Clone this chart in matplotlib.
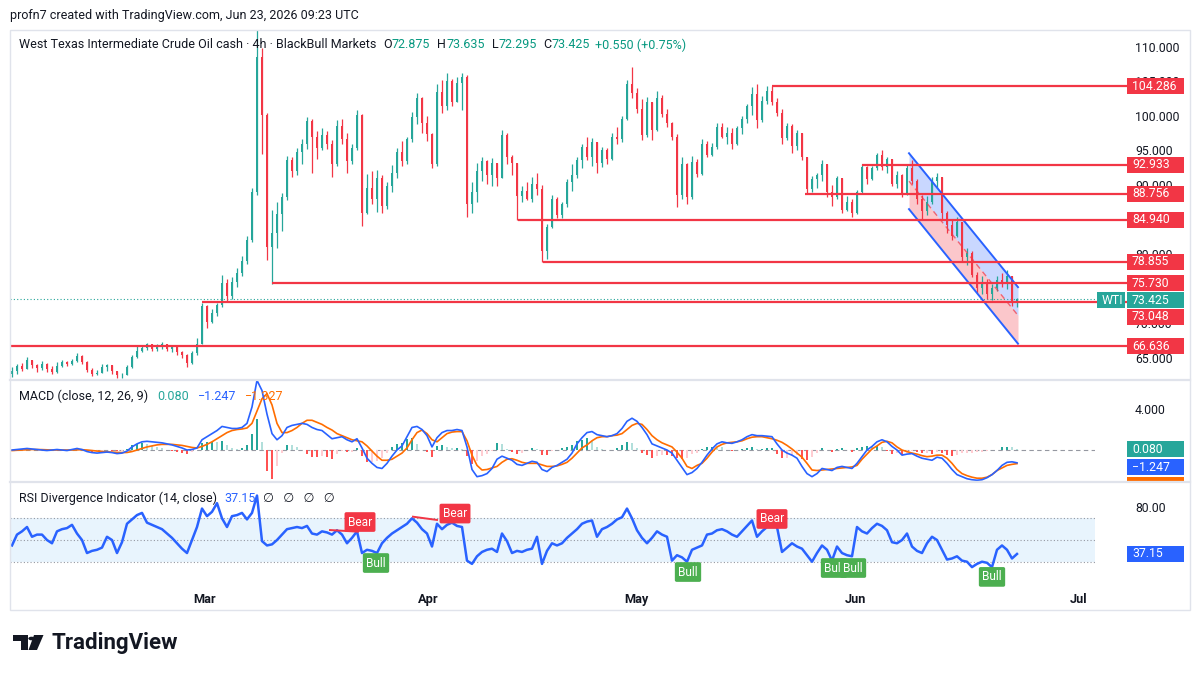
import numpy as np
import matplotlib
matplotlib.use("Agg")
import matplotlib.pyplot as plt
from matplotlib.patches import Rectangle, Polygon, Circle
from matplotlib.lines import Line2D
from matplotlib.ticker import FormatStrFormatter

plt.rcParams['font.family'] = ['Roboto', 'DejaVu Sans']

# ---- data (one 4h-ish candle per index) ----
first_open = 62.6
close = [63.0, 63.8, 63.4, 64.6, 63.9, 63.5, 64.1, 63.3, 62.9, 63.8,
         64.3, 64.1, 64.5, 65.2, 64.4, 63.2, 62.6, 62.8, 63.6, 63.9,
         63.0, 62.4, 62.5, 63.6, 65.1, 66.0, 66.4, 66.9, 66.3, 66.6,
         66.9, 66.2, 66.5, 65.8, 65.3, 64.2, 65.6, 66.9, 72.4, 70.2,
         71.4, 72.6, 75.8, 73.9, 76.0, 77.3, 79.0, 82.0, 89.0, 108.5,
         100.2, 81.0, 83.0, 85.8, 88.3, 93.6, 92.0, 94.8, 96.0, 99.3,
         97.0, 95.4, 97.2, 96.0, 93.0, 98.5, 96.7, 93.5, 95.4, 100.2,
         86.0, 89.5, 88.0, 91.0, 87.0, 89.8, 91.8, 94.8, 93.5, 96.6,
         99.8, 102.6, 99.0, 97.4, 93.0, 103.5, 101.5, 105.0, 102.0, 104.8,
         105.6, 87.2, 89.0, 92.0, 93.5, 91.4, 93.2, 91.0, 97.2, 94.0,
         93.2, 88.4, 89.2, 88.0, 90.2, 89.4, 80.5, 83.9, 88.0, 85.6,
         87.2, 90.4, 91.5, 93.6, 95.5, 94.0, 96.2, 93.2, 95.0, 93.8,
         97.0, 96.6, 99.6, 104.6, 103.4, 101.0, 97.2, 102.0, 98.0, 102.6,
         100.3, 99.0, 97.0, 88.5, 93.0, 88.2, 93.4, 91.6, 96.0, 94.3,
         95.5, 98.4, 97.0, 97.6, 96.0, 98.3, 99.6, 101.4, 103.2, 99.4,
         102.2, 103.6, 102.0, 100.4, 96.8, 98.6, 95.6, 97.5, 94.0, 89.4,
         90.8, 91.4, 93.0, 89.0, 88.2, 91.0, 86.4, 87.6, 86.0, 89.0,
         92.6, 90.8, 92.5, 94.3, 92.6, 93.8, 90.2, 91.4, 88.6, 92.5,
         90.6, 88.0, 86.2, 87.6, 90.6, 91.2, 86.0, 84.2, 82.6, 84.6,
         79.6, 80.2, 77.0, 75.0, 76.0, 74.2, 75.0, 76.3, 75.6, 76.8,
         72.875, 73.425]
high = [63.6, 64.0, 64.2, 65.1, 64.7, 64.1, 64.5, 64.2, 63.7, 64.3,
        64.6, 64.5, 64.8, 65.6, 65.3, 64.5, 63.5, 63.2, 64.0, 64.1,
        63.9, 63.1, 62.8, 63.9, 65.3, 66.6, 66.7, 67.1, 67.0, 66.9,
        67.3, 67.0, 66.8, 66.6, 65.9, 65.5, 66.0, 67.8, 72.9, 72.6,
        72.0, 72.9, 77.0, 76.4, 76.6, 78.0, 79.7, 82.6, 89.6, 112.4,
        109.8, 100.5, 86.4, 87.6, 88.9, 94.2, 94.0, 95.4, 96.6, 99.8,
        99.5, 97.8, 98.2, 97.8, 96.5, 99.4, 99.6, 97.5, 96.0, 100.9,
        100.3, 91.6, 92.0, 92.1, 91.4, 90.5, 92.9, 95.3, 96.4, 97.0,
        100.6, 103.3, 102.8, 100.0, 97.5, 104.7, 105.2, 106.2, 105.3, 105.6,
        106.2, 106.0, 90.4, 93.2, 94.1, 93.6, 93.9, 93.0, 98.0, 97.6,
        94.4, 92.0, 89.8, 90.4, 91.2, 91.7, 90.0, 84.4, 88.5, 88.3,
        87.6, 90.8, 93.0, 94.1, 96.0, 97.0, 96.8, 95.6, 95.5, 95.3,
        97.5, 98.4, 100.0, 105.2, 107.1, 104.0, 102.5, 102.8, 101.5, 103.6,
        103.0, 101.0, 99.2, 97.4, 94.1, 93.2, 94.2, 93.8, 96.6, 96.4,
        96.1, 99.0, 99.0, 98.4, 98.2, 98.6, 100.0, 101.8, 104.2, 104.6,
        102.9, 104.3, 104.3, 102.6, 101.0, 99.0, 98.8, 98.0, 96.5, 93.5,
        91.3, 91.7, 93.6, 92.8, 90.0, 91.3, 90.6, 88.4, 87.9, 89.3,
        93.0, 92.7, 92.8, 94.6, 95.0, 94.0, 93.6, 92.0, 91.6, 93.0,
        93.6, 90.9, 88.6, 88.4, 91.2, 91.7, 91.0, 86.2, 85.0, 85.3,
        84.5, 80.8, 80.4, 77.4, 76.8, 76.4, 75.6, 76.8, 77.2, 77.7,
        76.4, 73.635]
low = [62.2, 62.6, 63.1, 63.3, 63.5, 62.9, 63.2, 62.9, 62.6, 62.8,
       63.6, 63.7, 63.9, 64.3, 64.1, 62.9, 62.3, 62.4, 62.7, 63.1,
       62.6, 62.0, 62.1, 62.4, 63.5, 65.0, 65.8, 66.1, 66.0, 65.9,
       66.3, 65.9, 65.8, 65.4, 64.9, 63.6, 64.0, 65.4, 66.9, 69.3,
       70.0, 71.0, 72.3, 73.2, 73.5, 75.2, 76.8, 78.5, 81.8, 88.5,
       94.5, 79.2, 75.6, 80.8, 83.4, 87.8, 91.2, 91.5, 93.0, 95.2,
       91.7, 93.8, 95.0, 95.2, 91.2, 92.8, 96.0, 91.8, 93.0, 95.0,
       84.0, 85.8, 87.2, 86.1, 86.0, 86.5, 89.0, 91.0, 92.7, 93.0,
       96.2, 98.8, 97.6, 96.4, 92.4, 92.8, 100.5, 100.8, 101.4, 102.0,
       100.8, 85.4, 86.0, 87.5, 90.6, 90.2, 89.8, 89.9, 91.0, 93.0,
       91.5, 84.9, 87.6, 87.8, 87.6, 88.6, 78.9, 79.3, 83.8, 85.2,
       85.2, 86.8, 89.2, 91.0, 92.5, 93.6, 92.8, 91.8, 92.6, 93.0,
       93.6, 96.0, 96.2, 99.4, 102.6, 100.4, 96.5, 97.0, 96.5, 97.8,
       99.8, 98.4, 96.5, 86.8, 88.0, 87.3, 88.0, 91.2, 91.4, 94.0,
       94.2, 95.2, 96.8, 95.9, 95.2, 95.8, 97.4, 99.0, 100.2, 98.2,
       99.2, 101.8, 101.6, 100.0, 96.0, 96.5, 94.6, 95.0, 93.6, 88.8,
       89.0, 89.6, 90.6, 88.3, 86.9, 88.0, 85.9, 86.2, 85.4, 85.8,
       88.8, 90.2, 90.7, 92.2, 92.2, 91.8, 89.8, 89.6, 88.3, 88.5,
       90.2, 87.3, 85.0, 85.6, 87.2, 89.5, 85.0, 83.0, 82.0, 82.4,
       78.9, 78.4, 76.6, 74.3, 74.2, 73.5, 73.3, 74.6, 75.2, 74.9,
       72.4, 72.295]

macd = [0.0, 0.05, 0.1, 0.15, 0.1, 0.05, 0.0, -0.05, 0.0, 0.05,
        0.0, -0.05, 0.05, 0.15, 0.05, -0.15, -0.25, -0.3, -0.25, -0.2,
        -0.25, -0.35, -0.3, -0.1, 0.3, 0.6, 0.8, 0.85, 0.8, 0.75,
        0.7, 0.6, 0.5, 0.35, 0.2, 0.0, 0.05, 0.2, 1.0, 1.3,
        1.6, 1.9, 2.3, 2.2, 2.1, 2.1, 2.2, 2.6, 4.2, 6.8,
        5.8, 3.5, 1.6, 1.0, 1.4, 2.2, 2.4, 2.5, 2.6, 2.5,
        2.2, 2.0, 1.9, 1.5, 1.1, 1.2, 1.3, 1.0, 0.8, 1.1,
        0.2, -0.8, -1.3, -1.7, -1.8, -1.3, -0.6, 0.0, 0.4, 1.3,
        2.2, 2.3, 2.0, 1.4, 0.3, 1.2, 1.7, 1.9, 1.9, 2.0,
        1.9, 0.3, -1.9, -2.6, -2.5, -2.3, -1.8, -0.9, -0.6, -0.8,
        -1.0, -1.4, -1.5, -1.3, -1.1, -1.2, -1.9, -2.1, -1.7, -1.5,
        -1.2, -0.9, -0.3, 0.6, 1.2, 1.7, 1.8, 1.5, 1.4, 1.3,
        1.4, 1.6, 2.1, 2.8, 3.1, 2.8, 2.2, 1.5, 0.6, 0.4,
        0.2, 0.0, -0.3, -1.0, -1.7, -2.4, -2.2, -1.8, -1.2, -0.5,
        0.1, 0.6, 0.8, 0.7, 0.65, 0.8, 1.0, 1.3, 1.5, 1.4,
        1.4, 1.35, 1.3, 0.6, 0.0, -0.3, -0.5, -0.8, -1.6, -2.3,
        -2.6, -2.3, -1.8, -1.9, -2.0, -1.7, -1.6, -1.7, -1.8, -1.3,
        -0.65, 0.0, 0.35, 0.8, 1.0, 0.8, 0.35, 0.0, -0.5, -0.4,
        -0.35, -0.6, -0.8, -0.9, -1.0, -0.7, -0.8, -1.3, -1.9, -2.4,
        -2.6, -2.8, -2.9, -2.95, -2.9, -2.7, -2.4, -2.0, -1.5, -1.2,
        -1.15, -1.247]
signal = [-0.05, -0.03, 0.0, 0.03, 0.05, 0.05, 0.04, 0.02, 0.0, 0.0,
          0.0, 0.0, 0.0, 0.02, 0.03, 0.0, -0.05, -0.1, -0.15, -0.18,
          -0.2, -0.23, -0.25, -0.24, -0.15, 0.0, 0.15, 0.3, 0.4, 0.5,
          0.55, 0.55, 0.55, 0.5, 0.45, 0.35, 0.25, 0.2, 0.35, 0.55,
          0.8, 1.1, 1.4, 1.7, 1.9, 2.0, 2.05, 2.15, 2.6, 3.8,
          5.0, 5.5, 4.4, 2.6, 1.7, 1.7, 1.9, 2.2, 2.6, 2.9,
          2.9, 2.7, 2.5, 2.2, 1.95, 1.6, 1.4, 1.2, 1.0, 0.9,
          0.8, 0.4, -0.1, -0.6, -1.0, -1.0, -0.9, -0.6, -0.3, 0.2,
          1.0, 1.7, 1.95, 1.6, 1.0, 0.8, 1.2, 1.6, 1.75, 1.8,
          1.8, 0.9, -0.5, -1.5, -1.95, -1.9, -1.75, -1.6, -1.2, -0.9,
          -0.85, -1.0, -1.2, -1.3, -1.3, -1.3, -1.45, -1.6, -1.6, -1.55,
          -1.4, -1.2, -0.8, -0.3, 0.2, 0.5, 0.9, 1.2, 1.3, 1.3,
          1.4, 1.45, 1.6, 2.0, 2.4, 2.6, 2.5, 2.0, 1.4, 1.0,
          0.7, 0.5, 0.3, -0.2, -0.8, -1.6, -1.8, -1.5, -1.3, -0.8,
          -0.2, 0.3, 0.55, 0.7, 0.75, 0.8, 0.9, 1.1, 1.25, 1.3,
          1.3, 1.2, 1.1, 0.95, 0.75, 0.45, 0.1, -0.3, -0.7, -1.3,
          -1.95, -2.0, -1.95, -1.9, -1.85, -1.8, -1.75, -1.7, -1.65, -1.5,
          -0.9, -0.4, 0.1, 0.4, 0.75, 0.85, 0.7, 0.3, 0.0, -0.15,
          -0.3, -0.4, -0.55, -0.65, -0.6, -0.5, -0.5, -0.8, -1.3, -1.9,
          -2.3, -2.5, -2.65, -2.75, -2.75, -2.65, -2.4, -2.0, -1.75, -1.5,
          -1.4, -1.327]
rsi = [45, 55, 58, 62, 53, 55, 55, 50, 47, 58,
       60, 61, 64, 56, 50, 38, 40, 41, 43, 53,
       50, 38, 48, 65, 69, 73, 75, 66, 64, 62,
       60, 56, 52, 47, 42, 38, 50, 62, 79, 72,
       76, 84, 70, 62, 72, 73, 75, 69, 75, 91,
       49, 45, 46, 50, 55, 60, 61, 62, 61, 63,
       56, 55, 58, 57, 55, 59, 55, 47, 52, 58,
       38, 41, 40, 38, 47, 52, 56, 59, 62, 65,
       70, 66, 60, 56, 44, 65, 60, 64, 66, 63,
       62, 31, 28, 35, 39, 41, 42, 39, 56, 49,
       38, 40, 39, 41, 42, 53, 28, 40, 47, 45,
       47, 52, 56, 60, 65, 67, 68, 53, 60, 62,
       65, 69, 71, 79, 70, 59, 52, 47, 52, 58,
       55, 53, 31, 36, 34, 30, 41, 43, 45, 55,
       56, 59, 60, 58, 55, 53, 58, 63, 68, 53,
       58, 62, 62, 62, 39, 43, 47, 44, 42, 36,
       30, 38, 45, 41, 31, 44, 38, 36, 35, 62,
       58, 56, 61, 65, 63, 59, 48, 47, 50, 56,
       44, 40, 38, 47, 53, 50, 41, 32, 33, 35,
       31, 30, 25, 28, 30, 29, 25, 41, 45, 41,
       33, 37.15]

levels = [104.286, 92.933, 88.756, 84.940, 78.855, 75.730, 73.048, 66.636]
level_from = [152, 170, 158.6, 101.2, 106.2, 52, 38, -0.4]
last_price = 73.425
price_ticks = [65, 70, 80, 90, 95, 100, 105, 110]

chan_x = [179.4, 201.2]
chan_top = [94.6, 75.2]
chan_bot = [86.5, 67.0]

div_text = ['Bear', 'Bull', 'Bear', 'Bull', 'Bear', 'Bull', 'Bull', 'Bull']
div_x = [69.6, 72.8, 88.6, 135.2, 152.0, 164.4, 168.2, 196.0]
div_y = [66.6, 28.8, 74.4, 20.5, 69.4, 24.2, 24.2, 16.0]

months = ['Mar', 'Apr', 'May', 'Jun', 'Jul']
month_pos = [38.6, 83.2, 124.8, 168.6, 213.4]

# ---- colours ----
DARK = '#131722'
TEAL = '#26a69a'
RED = '#f23645'
BLUE = '#2962ff'
ORANGE = '#ff6d00'
GREEN = '#4caf50'
GRID = '#e0e3eb'
FS = 9.0

W, H = 1200, 675
fig = plt.figure(figsize=(12, 6.75), dpi=100)
fig.patch.set_facecolor('white')


def fx(px):
    return px / W


def fy(py):
    return 1 - py / H


ax_p = fig.add_axes([fx(10), fy(380), fx(1085), 350 / H])
ax_m = fig.add_axes([fx(10), fy(482), fx(1085), 102 / H])
ax_r = fig.add_axes([fx(10), fy(585), fx(1085), 103 / H])

for ax in (ax_p, ax_m, ax_r):
    ax.set_xlim(-0.4, 216.6)
    for s in ax.spines.values():
        s.set_visible(False)
    ax.yaxis.tick_right()
    ax.tick_params(axis='y', length=0, pad=28.8, labelsize=8.8, labelcolor=DARK)
    ax.tick_params(axis='x', length=0)
    ax.set_facecolor('none')

ax_p.set_ylim(61.74, 112.46)
ax_m.set_ylim(-3.12, 6.83)
ax_r.set_ylim(8.53, 103.5)

ax_p.set_yticks(price_ticks)
ax_p.yaxis.set_major_formatter(FormatStrFormatter('%.3f'))
ax_m.set_yticks([4])
ax_m.yaxis.set_major_formatter(FormatStrFormatter('%.3f'))
ax_r.set_yticks([80])
ax_r.yaxis.set_major_formatter(FormatStrFormatter('%.2f'))
ax_p.set_xticks([])
ax_m.set_xticks([])
ax_r.set_xticks(month_pos)
ax_r.set_xticklabels(months, fontsize=9.2, fontweight='bold', color=DARK)
ax_r.tick_params(axis='x', pad=6)

# ---- price pane ----
c = np.array(close)
o = np.array([first_open] + close[:-1])
hi = np.maximum(np.array(high), np.maximum(o, c))
lo = np.minimum(np.array(low), np.minimum(o, c))
x = np.arange(len(c))
cols = np.where(c >= o, TEAL, RED)
ax_p.vlines(x, lo, hi, colors=cols, lw=0.9, zorder=3)
body = np.maximum(np.abs(c - o), 0.12)
ax_p.bar(x, body, bottom=np.minimum(o, c), width=0.45, color=cols, zorder=3)

# channel
mid = [(a + b) / 2 for a, b in zip(chan_top, chan_bot)]
ax_p.fill_between(chan_x, chan_top, mid, color=BLUE, alpha=0.25, lw=0, zorder=2)
ax_p.fill_between(chan_x, mid, chan_bot, color=RED, alpha=0.28, lw=0, zorder=2)
ax_p.plot(chan_x, chan_top, color=BLUE, lw=1.4, zorder=4)
ax_p.plot(chan_x, chan_bot, color=BLUE, lw=1.4, zorder=4)
ax_p.plot(chan_x, mid, color=RED, lw=1, ls=(0, (4, 3)), alpha=0.7, zorder=4)

# horizontal levels
for lv, x0 in zip(levels, level_from):
    ax_p.plot([x0, 223], [lv, lv], color=RED, lw=1.6, zorder=5, clip_on=False,
              solid_capstyle='butt')
ax_p.axhline(last_price, color=TEAL, lw=0.8, ls=(0, (1, 2)), zorder=2)

# ---- MACD pane ----
m = np.array(macd)
s = np.array(signal)
hist = m - s
prev = np.concatenate([[hist[0]], hist[:-1]])
hcols = []
for h, p in zip(hist, prev):
    if h >= 0:
        hcols.append('#26a69a' if h >= p else '#b2dfdb')
    else:
        hcols.append('#ffcdd2' if h >= p else '#ff5252')
ax_m.bar(x, hist, width=0.5, color=hcols, zorder=2)
ax_m.axhline(0, color='#9598a1', lw=0.8, ls=(0, (4, 3)), zorder=1)
ax_m.plot(x, s, color=ORANGE, lw=1.2, zorder=3)
ax_m.plot(x, m, color=BLUE, lw=1.2, zorder=4)

# ---- RSI pane ----
ax_r.axhspan(30, 70, color='#2196f3', alpha=0.1, lw=0, zorder=0)
for lv in (70, 50, 30):
    ax_r.axhline(lv, color='#9598a1', lw=0.8, ls=(0, (1, 2)), zorder=1)
ax_r.plot(x, rsi, color=BLUE, lw=1.8, zorder=3)
ax_r.plot([63.6, 69.2], [59.2, 57.7], color=RED, lw=1.4, zorder=3)
ax_r.plot([80.2, 85.0], [71.5, 68.5], color=RED, lw=1.4, zorder=3)
for t, xx, yy in zip(div_text, div_x, div_y):
    fc = RED if t == 'Bear' else GREEN
    ax_r.text(xx, yy, t, ha='center', va='center', color='white', fontsize=8.6,
              zorder=5, bbox=dict(boxstyle='round,pad=0.28,rounding_size=0.15',
                                  fc=fc, ec='none'))

# ---- frame and separators ----
fig.add_artist(Rectangle((fx(10), fy(610)), fx(1180), 580 / H, transform=fig.transFigure,
                         fill=False, ec=GRID, lw=1.0))
for yy in (380, 482):
    fig.add_artist(Line2D([fx(10), fx(1190)], [fy(yy), fy(yy)], transform=fig.transFigure,
                          color=GRID, lw=1.6))


# ---- price tags on the right scale ----
def tag(ax, v, text, fc, dy=0, x0=1127, w=57, h=16):
    yd = ax.transData.transform((0, v))[1] - dy
    fig.add_artist(Rectangle((x0 / W, (yd - h / 2) / H), w / W, h / H,
                             transform=fig.transFigure, fc=fc, ec='none'))
    fig.text((x0 + 5) / W, yd / H, text, color='white', fontsize=8.8, va='center',
             ha='left')


for lv in levels:
    tag(ax_p, lv, '%.3f' % lv, RED, dy=15 if lv == 73.048 else 0)
tag(ax_p, last_price, '%.3f' % last_price, TEAL, dy=1)
tag(ax_p, last_price, 'WTI', TEAL, dy=1, x0=1097, w=28)
tag(ax_m, 0.08, '0.080', TEAL)
tag(ax_m, -1.247, '\u22121.247', BLUE, dy=4.5)
fig.add_artist(Rectangle((1127 / W, fy(481)), 57 / W, 4 / H, transform=fig.transFigure,
                         fc=ORANGE, ec='none'))
tag(ax_r, 37.15, '37.15', BLUE)

# ---- legends / header texts ----
renderer = fig.canvas.get_renderer()


def seg_text(x0, y0, parts, size=FS):
    xx = x0
    for txt, col, gap in parts:
        t = fig.text(xx / W, fy(y0), txt, color=col, fontsize=size, va='center', ha='left')
        xx += t.get_window_extent(renderer=renderer).width + gap


fig.text(fx(10), fy(15), 'profn7 created with TradingView.com, Jun 23, 2026 09:23 UTC',
         color=DARK, fontsize=FS, va='center')
VAL = '#089981'
seg_text(19, 45, [('West Texas Intermediate Crude Oil cash \u00b7 4h \u00b7 BlackBull Markets', DARK, 7),
                  ('O', DARK, 0), ('72.875', VAL, 7), ('H', DARK, 0), ('73.635', VAL, 7),
                  ('L', DARK, 0), ('72.295', VAL, 7), ('C', DARK, 0), ('73.425', VAL, 5),
                  ('+0.550 (+0.75%)', VAL, 0)])
seg_text(19, 396, [('MACD (close, 12, 26, 9)', DARK, 9), ('0.080', TEAL, 9),
                   ('\u22121.247', BLUE, 9), ('\u22121.327', ORANGE, 0)])
seg_text(19, 498, [('RSI Divergence Indicator (14, close)', DARK, 7), ('37.15', BLUE, 8),
                   ('\u2205   \u2205   \u2205   \u2205', DARK, 0)])

# ---- TradingView logo ----
fig.add_artist(Polygon([(fx(13), fy(635)), (fx(28), fy(635)), (fx(28), fy(650)),
                        (fx(21), fy(650)), (fx(21), fy(641)), (fx(13), fy(641))],
                       closed=True, transform=fig.transFigure, fc=DARK, ec='none'))
fig.add_artist(Polygon([(fx(34), fy(635)), (fx(43.5), fy(635)), (fx(37), fy(650)),
                        (fx(28.5), fy(650))], closed=True, transform=fig.transFigure,
                       fc=DARK, ec='none'))
fig.add_artist(Circle((fx(31.5), fy(638.5)), 3.2 / W, transform=fig.transFigure,
                      fc=DARK, ec='none'))
fig.text(fx(51), fy(643), 'TradingView', color=DARK, fontsize=16, fontweight='bold',
         va='center', ha='left')

fig.savefig('out.png', dpi=100, facecolor='white')
